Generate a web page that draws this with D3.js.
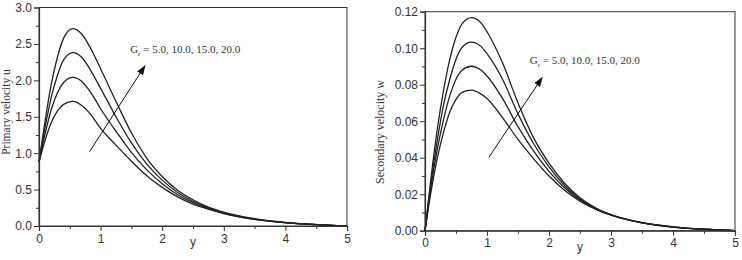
<!DOCTYPE html>
<html>
<head>
<meta charset="utf-8">
<script src="https://cdn.jsdelivr.net/npm/d3@7"></script>
<style>
  body { margin: 0; background: #fff; }
  svg { display: block; }
  .tick text { font-family: "Liberation Sans", Arial, sans-serif; font-size: 12px; fill: #333; }
  .serif { font-family: "Liberation Serif", "Times New Roman", serif; fill: #333; }
</style>
</head>
<body>
<svg id="chart" width="742" height="260"></svg>
<script>
// values
const grLabels = ["5.0", "10.0", "15.0", "20.0"];

const yLeft = [0, 0.1, 0.2, 0.3, 0.4, 0.55, 0.7, 0.85, 1.0, 1.25, 1.5, 1.75, 2.0, 2.25, 2.5, 2.75, 3.0, 3.5, 4.0, 4.5, 5.0];
const uGr5  = [0.88, 1.18, 1.42, 1.58, 1.67, 1.71, 1.65, 1.52, 1.34, 1.11, 0.89, 0.69, 0.53, 0.40, 0.30, 0.23, 0.17, 0.09, 0.045, 0.018, 0.0];
const uGr10 = [0.88, 1.27, 1.60, 1.83, 1.97, 2.04, 1.98, 1.82, 1.61, 1.30, 1.01, 0.77, 0.58, 0.43, 0.32, 0.24, 0.175, 0.092, 0.046, 0.018, 0.0];
const uGr15 = [0.88, 1.36, 1.77, 2.07, 2.28, 2.38, 2.31, 2.12, 1.89, 1.50, 1.14, 0.85, 0.63, 0.46, 0.34, 0.25, 0.18, 0.095, 0.047, 0.019, 0.0];
const uGr20 = [0.88, 1.45, 1.95, 2.32, 2.58, 2.71, 2.63, 2.42, 2.16, 1.71, 1.28, 0.93, 0.68, 0.49, 0.36, 0.26, 0.19, 0.10, 0.048, 0.019, 0.0];

const yRight = [0, 0.1, 0.2, 0.3, 0.4, 0.5, 0.6, 0.75, 0.9, 1.0, 1.25, 1.5, 1.75, 2.0, 2.25, 2.5, 2.75, 3.0, 3.5, 4.0, 4.5, 5.0];
const wGr5  = [0, 0.022, 0.040, 0.054, 0.065, 0.072, 0.0758, 0.0770, 0.0750, 0.0725, 0.0620, 0.0500, 0.0395, 0.0300, 0.0222, 0.0162, 0.0118, 0.0085, 0.0043, 0.0020, 0.0008, 0];
const wGr10 = [0, 0.025, 0.045, 0.061, 0.074, 0.083, 0.088, 0.0901, 0.088, 0.0848, 0.0725, 0.0570, 0.0437, 0.0325, 0.0235, 0.0168, 0.0120, 0.0086, 0.0043, 0.0020, 0.0008, 0];
const wGr15 = [0, 0.027, 0.050, 0.069, 0.083, 0.094, 0.1005, 0.1033, 0.1010, 0.0970, 0.0830, 0.0640, 0.0478, 0.0350, 0.0248, 0.0174, 0.0122, 0.0087, 0.0044, 0.0021, 0.0008, 0];
const wGr20 = [0, 0.030, 0.056, 0.077, 0.094, 0.106, 0.1135, 0.1168, 0.1140, 0.1090, 0.0920, 0.0700, 0.0510, 0.0370, 0.0260, 0.0180, 0.0125, 0.0088, 0.0044, 0.0021, 0.0008, 0];

const xTicks = [0, 1, 2, 3, 4, 5];
const uTicks = [0, 0.5, 1.0, 1.5, 2.0, 2.5, 3.0];
const wTicks = [0, 0.02, 0.04, 0.06, 0.08, 0.10, 0.12];

const svg = d3.select("#chart");
svg.append("defs").append("marker")
  .attr("id", "head")
  .attr("viewBox", "0 0 10 10")
  .attr("refX", 9).attr("refY", 5)
  .attr("markerWidth", 10).attr("markerHeight", 10)
  .attr("markerUnits", "userSpaceOnUse")
  .attr("orient", "auto")
  .append("path")
  .attr("d", "M0,1.5 L10,5 L0,8.5 Z")
  .attr("fill", "#111");

function panel(opt) {
  const x = d3.scaleLinear().domain([0, 5]).range([opt.left, opt.right]);
  const y = d3.scaleLinear().domain([0, opt.yMax]).range([opt.bottom, opt.top]);
  const g = svg.append("g");

  // frame
  g.append("rect")
    .attr("x", opt.left).attr("y", opt.top)
    .attr("width", opt.right - opt.left).attr("height", opt.bottom - opt.top)
    .attr("fill", "none").attr("stroke", "#333").attr("stroke-width", 1);

  const line = d3.line()
    .x((d, i) => x(opt.xs[i]))
    .y(d => y(d))
    .curve(d3.curveMonotoneX);

  g.selectAll("path.curve")
    .data(opt.series)
    .enter().append("path")
    .attr("class", "curve")
    .attr("d", d => line(d))
    .attr("fill", "none")
    .attr("stroke", "#222")
    .attr("stroke-width", 1.3);

  // minor ticks
  g.append("g")
    .attr("transform", `translate(0,${opt.bottom})`)
    .call(d3.axisBottom(x).tickValues(d3.range(0.5, 5, 1)).tickSize(3).tickFormat(""))
    .call(a => a.select(".domain").remove());
  g.append("g")
    .attr("transform", `translate(${opt.left},0)`)
    .call(d3.axisLeft(y).tickValues(opt.minor).tickSize(3).tickFormat(""))
    .call(a => a.select(".domain").remove());

  const xa = g.append("g")
    .attr("transform", `translate(0,${opt.bottom})`)
    .call(d3.axisBottom(x).tickValues(xTicks).tickSize(5).tickPadding(3).tickFormat(d3.format("d")));
  const ya = g.append("g")
    .attr("transform", `translate(${opt.left},0)`)
    .call(d3.axisLeft(y).tickValues(opt.ticks).tickSize(5).tickPadding(2).tickFormat(d3.format(opt.fmt)));
  [xa, ya].forEach(a => {
    a.select(".domain").attr("stroke", "#333").attr("stroke-width", 1.2);
  });
  g.selectAll(".tick line").attr("stroke", "#333");

  // x title
  g.append("text")
    .attr("x", x(2.5)).attr("y", opt.bottom + 20)
    .attr("text-anchor", "middle")
    .style("font-family", "Liberation Sans, Arial, sans-serif")
    .style("font-size", "12px").style("fill", "#333")
    .text("y");

  // y title
  g.append("text")
    .attr("class", "serif")
    .attr("transform", `translate(${opt.titleX},${opt.titleY}) rotate(-90)`)
    .attr("text-anchor", "middle")
    .style("font-size", opt.titleSize)
    .text(opt.title);

  // arrow + annotation
  g.append("line")
    .attr("x1", x(opt.arrow[0])).attr("y1", y(opt.arrow[1]))
    .attr("x2", x(opt.arrow[2])).attr("y2", y(opt.arrow[3]))
    .attr("stroke", "#111").attr("stroke-width", 1)
    .attr("marker-end", "url(#head)");

  const t = g.append("text")
    .attr("class", "serif")
    .attr("x", x(opt.note[0])).attr("y", y(opt.note[1]))
    .style("font-size", "11px");
  t.append("tspan").text("G");
  t.append("tspan").attr("dy", 3).style("font-size", "7px").text("r");
  t.append("tspan").attr("dy", -3).text(" = " + grLabels.join(", "));
}

panel({
  left: 39, right: 347, top: 7.5, bottom: 226,
  yMax: 3.0, ticks: uTicks, minor: d3.range(0.25, 3, 0.5), fmt: ".1f",
  xs: yLeft, series: [uGr5, uGr10, uGr15, uGr20],
  title: "Primary velocity u", titleX: 10, titleY: 112, titleSize: "11.5px",
  arrow: [0.82, 1.02, 1.72, 2.20], note: [1.48, 2.38]
});

panel({
  left: 425, right: 735, top: 11.7, bottom: 230.7,
  yMax: 0.12, ticks: wTicks, minor: d3.range(0.01, 0.12, 0.02), fmt: ".2f",
  xs: yRight, series: [wGr5, wGr10, wGr15, wGr20],
  title: "Secondary velocity w", titleX: 384, titleY: 132, titleSize: "12px",
  arrow: [1.03, 0.0402, 1.89, 0.0839], note: [1.69, 0.0915]
});
</script>
</body>
</html>
